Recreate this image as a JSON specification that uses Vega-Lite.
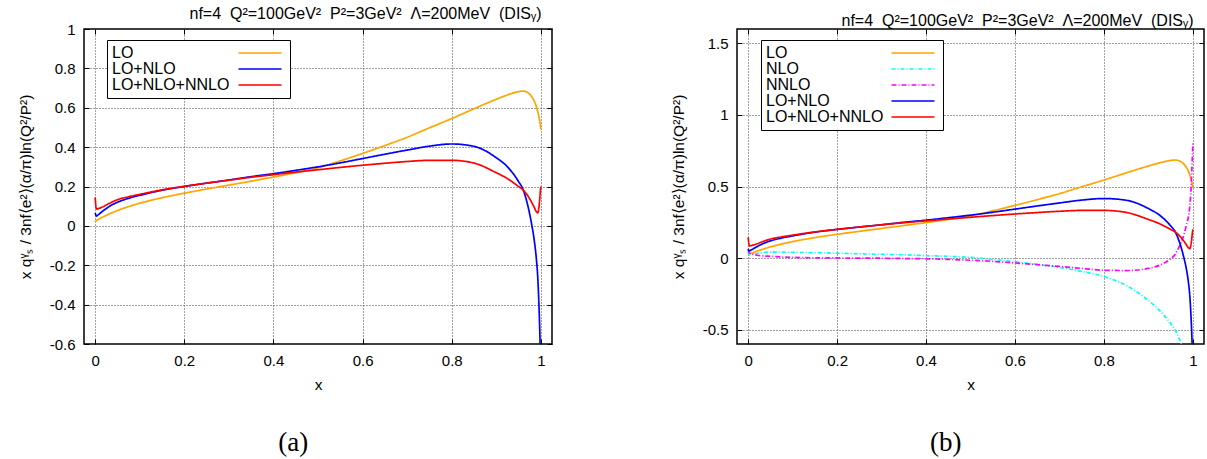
{
 "$schema": "https://vega.github.io/schema/vega-lite/v6.json",
 "padding": {"left": 17, "top": 5, "right": 0, "bottom": 0},
 "background": "white",
 "datasets": {"curves": [
  {"x":0,"series":"LO","y":0.02},{"x":0.003,"series":"LO","y":0.027},{"x":0.005,"series":"LO","y":0.03},{"x":0.01,"series":"LO","y":0.037},{"x":0.02,"series":"LO","y":0.048},{"x":0.035,"series":"LO","y":0.064},{"x":0.05,"series":"LO","y":0.078},{"x":0.075,"series":"LO","y":0.098},{"x":0.1,"series":"LO","y":0.115},{"x":0.15,"series":"LO","y":0.143},{"x":0.2,"series":"LO","y":0.166},{"x":0.25,"series":"LO","y":0.187},{"x":0.3,"series":"LO","y":0.207},{"x":0.35,"series":"LO","y":0.227},{"x":0.4,"series":"LO","y":0.248},{"x":0.45,"series":"LO","y":0.27},{"x":0.5,"series":"LO","y":0.295},{"x":0.55,"series":"LO","y":0.33},{"x":0.6,"series":"LO","y":0.368},{"x":0.65,"series":"LO","y":0.408},{"x":0.7,"series":"LO","y":0.45},{"x":0.75,"series":"LO","y":0.498},{"x":0.8,"series":"LO","y":0.545},{"x":0.85,"series":"LO","y":0.595},{"x":0.9,"series":"LO","y":0.643},{"x":0.925,"series":"LO","y":0.665},{"x":0.95,"series":"LO","y":0.682},{"x":0.96,"series":"LO","y":0.685},{"x":0.97,"series":"LO","y":0.678},{"x":0.98,"series":"LO","y":0.655},{"x":0.985,"series":"LO","y":0.635},{"x":0.99,"series":"LO","y":0.605},{"x":0.993,"series":"LO","y":0.58},{"x":0.996,"series":"LO","y":0.55},{"x":0.998,"series":"LO","y":0.525},{"x":0.999,"series":"LO","y":0.51},{"x":1,"series":"LO","y":0.49},
  {"x":0,"series":"NLO","y":0.045},{"x":0.003,"series":"NLO","y":0.023},{"x":0.005,"series":"NLO","y":0.023},{"x":0.01,"series":"NLO","y":0.025},{"x":0.02,"series":"NLO","y":0.032},{"x":0.035,"series":"NLO","y":0.039},{"x":0.05,"series":"NLO","y":0.042},{"x":0.075,"series":"NLO","y":0.042},{"x":0.1,"series":"NLO","y":0.04},{"x":0.15,"series":"NLO","y":0.038},{"x":0.2,"series":"NLO","y":0.034},{"x":0.25,"series":"NLO","y":0.03},{"x":0.3,"series":"NLO","y":0.026},{"x":0.35,"series":"NLO","y":0.023},{"x":0.4,"series":"NLO","y":0.017},{"x":0.45,"series":"NLO","y":0.012},{"x":0.5,"series":"NLO","y":0.005},{"x":0.55,"series":"NLO","y":-0.01},{"x":0.6,"series":"NLO","y":-0.026},{"x":0.65,"series":"NLO","y":-0.044},{"x":0.7,"series":"NLO","y":-0.065},{"x":0.75,"series":"NLO","y":-0.093},{"x":0.8,"series":"NLO","y":-0.129},{"x":0.85,"series":"NLO","y":-0.191},{"x":0.9,"series":"NLO","y":-0.297},{"x":0.925,"series":"NLO","y":-0.365},{"x":0.95,"series":"NLO","y":-0.457},{"x":0.96,"series":"NLO","y":-0.5},{"x":0.97,"series":"NLO","y":-0.568},{"x":0.976,"series":"NLO","y":-0.615},
  {"x":0,"series":"NNLO","y":0.06},{"x":0.003,"series":"NNLO","y":0.035},{"x":0.005,"series":"NNLO","y":0.033},{"x":0.01,"series":"NNLO","y":0.028},{"x":0.02,"series":"NNLO","y":0.02},{"x":0.035,"series":"NNLO","y":0.015},{"x":0.05,"series":"NNLO","y":0.013},{"x":0.075,"series":"NNLO","y":0.008},{"x":0.1,"series":"NNLO","y":0.005},{"x":0.15,"series":"NNLO","y":0.002},{"x":0.2,"series":"NNLO","y":0.001},{"x":0.25,"series":"NNLO","y":0},{"x":0.3,"series":"NNLO","y":-0.001},{"x":0.35,"series":"NNLO","y":-0.003},{"x":0.4,"series":"NNLO","y":-0.005},{"x":0.45,"series":"NNLO","y":-0.009},{"x":0.5,"series":"NNLO","y":-0.015},{"x":0.55,"series":"NNLO","y":-0.023},{"x":0.6,"series":"NNLO","y":-0.034},{"x":0.65,"series":"NNLO","y":-0.046},{"x":0.7,"series":"NNLO","y":-0.058},{"x":0.75,"series":"NNLO","y":-0.072},{"x":0.8,"series":"NNLO","y":-0.085},{"x":0.85,"series":"NNLO","y":-0.087},{"x":0.9,"series":"NNLO","y":-0.072},{"x":0.925,"series":"NNLO","y":-0.05},{"x":0.95,"series":"NNLO","y":-0.005},{"x":0.96,"series":"NNLO","y":0.025},{"x":0.97,"series":"NNLO","y":0.085},{"x":0.98,"series":"NNLO","y":0.165},{"x":0.985,"series":"NNLO","y":0.225},{"x":0.99,"series":"NNLO","y":0.29},{"x":0.993,"series":"NNLO","y":0.36},{"x":0.996,"series":"NNLO","y":0.49},{"x":0.998,"series":"NNLO","y":0.64},{"x":0.999,"series":"NNLO","y":0.72},{"x":1,"series":"NNLO","y":0.8},
  {"x":0,"series":"LO+NLO","y":0.065},{"x":0.003,"series":"LO+NLO","y":0.05},{"x":0.005,"series":"LO+NLO","y":0.053},{"x":0.01,"series":"LO+NLO","y":0.062},{"x":0.02,"series":"LO+NLO","y":0.08},{"x":0.035,"series":"LO+NLO","y":0.103},{"x":0.05,"series":"LO+NLO","y":0.12},{"x":0.075,"series":"LO+NLO","y":0.14},{"x":0.1,"series":"LO+NLO","y":0.155},{"x":0.15,"series":"LO+NLO","y":0.181},{"x":0.2,"series":"LO+NLO","y":0.2},{"x":0.25,"series":"LO+NLO","y":0.217},{"x":0.3,"series":"LO+NLO","y":0.233},{"x":0.35,"series":"LO+NLO","y":0.25},{"x":0.4,"series":"LO+NLO","y":0.265},{"x":0.45,"series":"LO+NLO","y":0.282},{"x":0.5,"series":"LO+NLO","y":0.3},{"x":0.55,"series":"LO+NLO","y":0.32},{"x":0.6,"series":"LO+NLO","y":0.342},{"x":0.65,"series":"LO+NLO","y":0.364},{"x":0.7,"series":"LO+NLO","y":0.385},{"x":0.75,"series":"LO+NLO","y":0.405},{"x":0.8,"series":"LO+NLO","y":0.416},{"x":0.85,"series":"LO+NLO","y":0.404},{"x":0.9,"series":"LO+NLO","y":0.346},{"x":0.925,"series":"LO+NLO","y":0.3},{"x":0.95,"series":"LO+NLO","y":0.225},{"x":0.96,"series":"LO+NLO","y":0.185},{"x":0.97,"series":"LO+NLO","y":0.11},{"x":0.98,"series":"LO+NLO","y":0},{"x":0.985,"series":"LO+NLO","y":-0.07},{"x":0.99,"series":"LO+NLO","y":-0.17},{"x":0.993,"series":"LO+NLO","y":-0.26},{"x":0.996,"series":"LO+NLO","y":-0.42},{"x":0.998,"series":"LO+NLO","y":-0.57},{"x":0.9985,"series":"LO+NLO","y":-0.62},
  {"x":0,"series":"LO+NLO+NNLO","y":0.145},{"x":0.003,"series":"LO+NLO+NNLO","y":0.085},{"x":0.005,"series":"LO+NLO+NNLO","y":0.086},{"x":0.01,"series":"LO+NLO+NNLO","y":0.09},{"x":0.02,"series":"LO+NLO+NNLO","y":0.1},{"x":0.035,"series":"LO+NLO+NNLO","y":0.118},{"x":0.05,"series":"LO+NLO+NNLO","y":0.133},{"x":0.075,"series":"LO+NLO+NNLO","y":0.148},{"x":0.1,"series":"LO+NLO+NNLO","y":0.16},{"x":0.15,"series":"LO+NLO+NNLO","y":0.183},{"x":0.2,"series":"LO+NLO+NNLO","y":0.201},{"x":0.25,"series":"LO+NLO+NNLO","y":0.217},{"x":0.3,"series":"LO+NLO+NNLO","y":0.232},{"x":0.35,"series":"LO+NLO+NNLO","y":0.247},{"x":0.4,"series":"LO+NLO+NNLO","y":0.26},{"x":0.45,"series":"LO+NLO+NNLO","y":0.273},{"x":0.5,"series":"LO+NLO+NNLO","y":0.285},{"x":0.55,"series":"LO+NLO+NNLO","y":0.297},{"x":0.6,"series":"LO+NLO+NNLO","y":0.308},{"x":0.65,"series":"LO+NLO+NNLO","y":0.318},{"x":0.7,"series":"LO+NLO+NNLO","y":0.327},{"x":0.75,"series":"LO+NLO+NNLO","y":0.333},{"x":0.8,"series":"LO+NLO+NNLO","y":0.333},{"x":0.85,"series":"LO+NLO+NNLO","y":0.319},{"x":0.9,"series":"LO+NLO+NNLO","y":0.27},{"x":0.925,"series":"LO+NLO+NNLO","y":0.24},{"x":0.95,"series":"LO+NLO+NNLO","y":0.2},{"x":0.96,"series":"LO+NLO+NNLO","y":0.183},{"x":0.97,"series":"LO+NLO+NNLO","y":0.155},{"x":0.98,"series":"LO+NLO+NNLO","y":0.117},{"x":0.985,"series":"LO+NLO+NNLO","y":0.095},{"x":0.99,"series":"LO+NLO+NNLO","y":0.072},{"x":0.993,"series":"LO+NLO+NNLO","y":0.066},{"x":0.996,"series":"LO+NLO+NNLO","y":0.1},{"x":0.998,"series":"LO+NLO+NNLO","y":0.15},{"x":0.999,"series":"LO+NLO+NNLO","y":0.18},{"x":1,"series":"LO+NLO+NNLO","y":0.2}
 ]},
 "config": {
  "font": "Liberation Sans",
  "view": {"stroke": "#000", "strokeWidth": 1.5},
  "axis": {"labelFont": "Liberation Sans", "labelFontSize": 15, "labelColor": "#000", "tickColor": "#000", "tickSize": -5, "tickWidth": 1, "domain": false, "gridColor": "#444", "gridDash": [1, 2], "gridWidth": 1, "titleFont": "Liberation Sans", "titleFontSize": 15.5, "titleFontWeight": "normal", "titleColor": "#000"},
  "legend": {"title": null, "orient": "none", "legendY": 11, "strokeColor": "#000", "fillColor": "#fff", "padding": 5, "labelFont": "Liberation Sans", "labelFontSize": 16, "labelColor": "#000", "symbolType": "M-4.3,0L4.3,0", "symbolSize": 100, "symbolStrokeWidth": 1.7, "rowPadding": -1},
  "title": {"font": "Liberation Sans", "fontSize": 16, "fontWeight": "normal", "color": "#000"}
 },
 "resolve": {"scale": {"color": "independent", "strokeDash": "independent"}},
 "spacing": 116,
 "hconcat": [
  {
   "title": {"text": "(a)", "orient": "bottom", "anchor": "middle", "font": "Liberation Serif", "fontSize": 27, "fontWeight": "normal", "dx": 8, "offset": 37},
   "vconcat": [{
    "width": 468, "height": 315,
    "title": {"text": "nf=4\u00a0\u00a0Q²=100GeV²\u00a0\u00a0P²=3GeV²\u00a0\u00a0Λ=200MeV\u00a0\u00a0(DISᵧ)", "anchor": "end", "dx": -11, "baseline": "alphabetic", "offset": -13},
    "data": {"name": "curves"},
    "transform": [{"filter": {"field": "series", "oneOf": ["LO", "LO+NLO", "LO+NLO+NNLO"]}}],
    "layer": [
     {
      "mark": {"type": "line", "clip": true, "interpolate": "monotone", "strokeWidth": 1.7},
      "encoding": {
       "x": {"field": "x", "type": "quantitative", "scale": {"domain": [-0.025, 1.025], "nice": false, "zero": false}, "axis": {"values": [0, 0.2, 0.4, 0.6, 0.8, 1], "labelExpr": "'' + datum.value", "title": "x", "grid": true, "labelPadding": 14, "titlePadding": 9}},
       "y": {"field": "y", "type": "quantitative", "scale": {"domain": [-0.6, 1], "nice": false, "zero": false}, "axis": {"values": [-0.6, -0.4, -0.2, 0, 0.2, 0.4, 0.6, 0.8, 1], "labelExpr": "'' + datum.value", "title": "x qᵞₛ / 3nf⟨e²⟩(α/π)ln(Q²/P²)", "grid": true, "labelPadding": 14, "titlePadding": 16}},
       "color": {"field": "series", "type": "nominal", "scale": {"domain": ["LO", "LO+NLO", "LO+NLO+NNLO"], "range": ["#ffa500", "#0000ff", "#ff0000"]},
        "legend": {"legendX": 23, "encode": {"symbols": {"update": {"x": {"value": 148}}}, "labels": {"update": {"x": {"value": 0}}}}}},
       "strokeDash": {"field": "series", "type": "nominal", "scale": {"domain": ["LO", "LO+NLO", "LO+NLO+NNLO"], "range": [[1, 0], [1, 0], [1, 0]]},
        "legend": {"legendX": 23, "encode": {"symbols": {"update": {"x": {"value": 148}}}, "labels": {"update": {"x": {"value": 0}}}}}}
      }
     },
     {
      "mark": {"type": "point", "opacity": 0, "clip": true},
      "encoding": {
       "x": {"field": "x", "type": "quantitative", "axis": {"orient": "top", "values": [0, 0.2, 0.4, 0.6, 0.8, 1], "labels": false, "title": null, "grid": false}},
       "y": {"field": "y", "type": "quantitative", "axis": {"orient": "right", "values": [-0.6, -0.4, -0.2, 0, 0.2, 0.4, 0.6, 0.8, 1], "labels": false, "title": null, "grid": false}}
      }
     }
    ],
    "resolve": {"axis": {"x": "independent", "y": "independent"}}
   }]
  },
  {
   "title": {"text": "(b)", "orient": "bottom", "anchor": "middle", "font": "Liberation Serif", "fontSize": 27, "fontWeight": "normal", "dx": 8, "offset": 37},
   "vconcat": [{
    "width": 467, "height": 315,
    "title": {"text": "nf=4\u00a0\u00a0Q²=100GeV²\u00a0\u00a0P²=3GeV²\u00a0\u00a0Λ=200MeV\u00a0\u00a0(DISᵧ)", "anchor": "end", "dx": -11, "baseline": "alphabetic", "offset": -13},
    "data": {"name": "curves"},
    "layer": [
     {
      "mark": {"type": "line", "clip": true, "interpolate": "monotone", "strokeWidth": 1.7},
      "encoding": {
       "x": {"field": "x", "type": "quantitative", "scale": {"domain": [-0.025, 1.025], "nice": false, "zero": false}, "axis": {"values": [0, 0.2, 0.4, 0.6, 0.8, 1], "labelExpr": "'' + datum.value", "title": "x", "grid": true, "labelPadding": 14, "titlePadding": 9}},
       "y": {"field": "y", "type": "quantitative", "scale": {"domain": [-0.6, 1.6], "nice": false, "zero": false}, "axis": {"values": [-0.5, 0, 0.5, 1, 1.5], "labelExpr": "'' + datum.value", "title": "x qᵞₛ / 3nf⟨e²⟩(α/π)ln(Q²/P²)", "grid": true, "labelPadding": 14, "titlePadding": 16}},
       "color": {"field": "series", "type": "nominal", "scale": {"domain": ["LO", "NLO", "NNLO", "LO+NLO", "LO+NLO+NNLO"], "range": ["#ffa500", "#00ffff", "#ff00ff", "#0000ff", "#ff0000"]},
        "legend": {"legendX": 24, "encode": {"symbols": {"update": {"x": {"value": 147}}}, "labels": {"update": {"x": {"value": 0}}}}}},
       "strokeDash": {"field": "series", "type": "nominal", "scale": {"domain": ["LO", "NLO", "NNLO", "LO+NLO", "LO+NLO+NNLO"], "range": [[1, 0], [4, 2, 1, 2], [5, 2, 1, 2], [1, 0], [1, 0]]},
        "legend": {"legendX": 24, "encode": {"symbols": {"update": {"x": {"value": 147}}}, "labels": {"update": {"x": {"value": 0}}}}}}
      }
     },
     {
      "mark": {"type": "point", "opacity": 0, "clip": true},
      "encoding": {
       "x": {"field": "x", "type": "quantitative", "axis": {"orient": "top", "values": [0, 0.2, 0.4, 0.6, 0.8, 1], "labels": false, "title": null, "grid": false}},
       "y": {"field": "y", "type": "quantitative", "axis": {"orient": "right", "values": [-0.5, 0, 0.5, 1, 1.5], "labels": false, "title": null, "grid": false}}
      }
     }
    ],
    "resolve": {"axis": {"x": "independent", "y": "independent"}}
   }]
  }
 ]
}
